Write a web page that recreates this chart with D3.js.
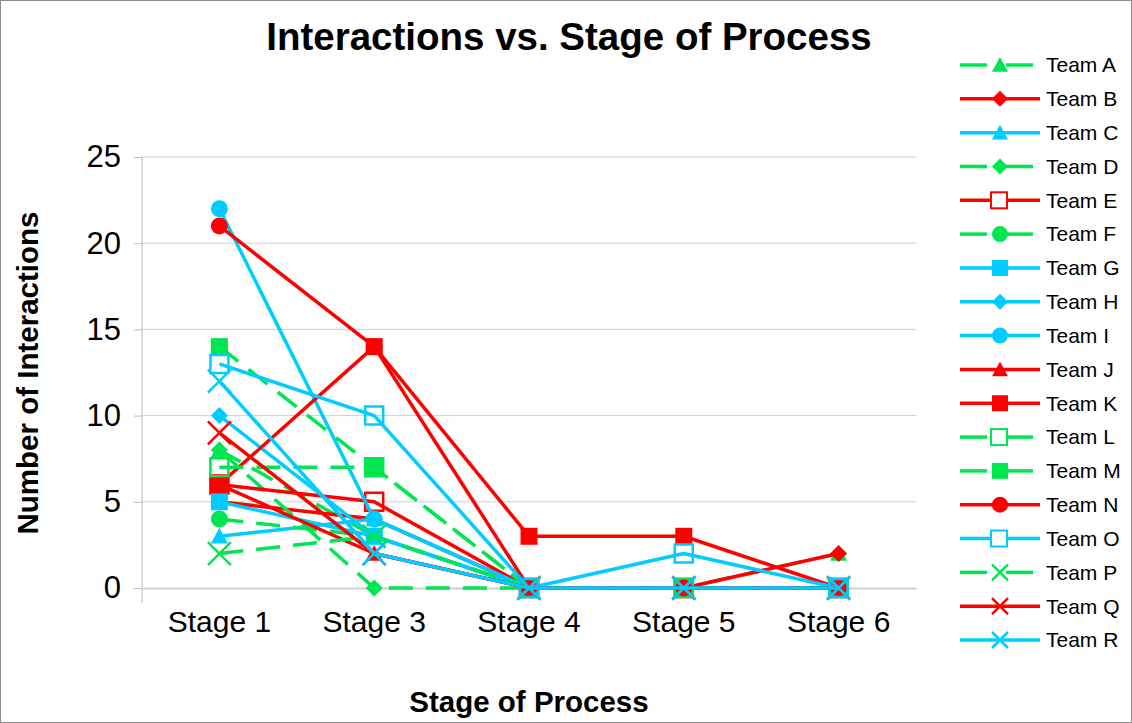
<!DOCTYPE html>
<html>
<head>
<meta charset="utf-8">
<script src="https://cdn.jsdelivr.net/npm/d3@7"></script>
<style>
  html, body { margin: 0; padding: 0; background: #fff; }
  svg { display: block; font-family: "Liberation Sans", Arial, Helvetica, sans-serif; }
</style>
</head>
<body>
<svg id="chart" width="1132" height="723"></svg>
<script>
// Stages on the horizontal axis
const stages = ["Stage 1", "Stage 3", "Stage 4", "Stage 5", "Stage 6"];
const yTicks = [0, 5, 10, 15, 20, 25];

// Interaction counts per team, one value per stage
const teamA = [8, 3, 0, 0, 2];
const teamB = [5, 4, 0, 0, 2];
const teamC = [3, 4, 0, 0, 0];
const teamD = [8, 0, 0, 0, 0];
const teamE = [6, 5, 0, 0, 0];
const teamF = [4, 3, 0, 0, 0];
const teamG = [5, 3, 0, 0, 0];
const teamH = [10, 3, 0, 0, 0];
const teamI = [22, 4, 0, 0, 0];
const teamJ = [6, 2, 0, 0, 0];
const teamK = [6, 14, 3, 3, 0];
const teamL = [7, 7, 0, 0, 0];
const teamM = [14, 7, 0, 0, 0];
const teamN = [21, 14, 0, 0, 0];
const teamO = [13, 10, 0, 2, 0];
const teamP = [2, 3, 0, 0, 0];
const teamQ = [9, 2, 0, 0, 0];
const teamR = [12, 2, 0, 0, 0];

const teamNames = ["Team A","Team B","Team C","Team D","Team E","Team F","Team G","Team H","Team I",
                   "Team J","Team K","Team L","Team M","Team N","Team O","Team P","Team Q","Team R"];
const teamValues = [teamA, teamB, teamC, teamD, teamE, teamF, teamG, teamH, teamI,
                    teamJ, teamK, teamL, teamM, teamN, teamO, teamP, teamQ, teamR];
const teamColorKey = ["g","r","c","g","r","g","c","c","c","r","r","g","g","r","c","g","r","c"];
const teamMarker = ["triangle","diamond","triangle","diamond","openSquare","circle","square","diamond","circle",
                    "triangle","square","openSquare","square","circle","openSquare","x","x","x"];

const palette = { g: "#00e650", r: "#ff0000", c: "#00ccff" };

const svg = d3.select("#chart");
const W = 1132, H = 723;

// outer frame
svg.append("rect").attr("x", 0.5).attr("y", 0.5).attr("width", W - 1).attr("height", H - 1)
  .attr("fill", "#fff").attr("stroke", "#8c8c8c").attr("stroke-width", 1);

const plot = { left: 142, right: 916, top: 157, bottom: 588 };

const x = d3.scaleBand().domain(stages).range([plot.left, plot.right]).padding(0);
const y = d3.scaleLinear().domain([0, 25]).range([plot.bottom, plot.top]);
const cx = s => x(s) + x.bandwidth() / 2;

// gridlines
svg.append("g").selectAll("line").data(yTicks.filter(t => t > 0)).join("line")
  .attr("x1", plot.left).attr("x2", plot.right)
  .attr("y1", d => y(d)).attr("y2", d => y(d))
  .attr("stroke", "#cfcfcf").attr("stroke-width", 1);

// y axis
const yAxis = svg.append("g").attr("transform", `translate(${plot.left},0)`)
  .call(d3.axisLeft(y).tickValues(yTicks).tickSize(8).tickPadding(13));
yAxis.select(".domain").attr("stroke", "#bdbdbd").attr("d", `M0,${plot.top}V${plot.bottom + 15}`);
yAxis.selectAll(".tick line").attr("stroke", "#bdbdbd");
yAxis.selectAll(".tick text").attr("font-size", 31).attr("fill", "#000")
  .attr("font-family", "'Liberation Sans', Arial, sans-serif");

// x axis
const xAxis = svg.append("g").attr("transform", `translate(0,${plot.bottom})`)
  .call(d3.axisBottom(x).tickSize(0).tickPadding(23));
xAxis.select(".domain").attr("stroke", "#cfcfcf").attr("stroke-width", 2);
xAxis.selectAll(".tick text").attr("font-size", 30).attr("fill", "#000")
  .attr("font-family", "'Liberation Sans', Arial, sans-serif");

// marker path builders (centered at 0,0)
function markerPath(type, s) {
  const h = s / 2;
  switch (type) {
    case "triangle": return `M0,${-h}L${h},${h * 0.85}L${-h},${h * 0.85}Z`;
    case "diamond": return `M0,${-h}L${h},0L0,${h}L${-h},0Z`;
    case "square":
    case "openSquare": return `M${-h},${-h}H${h}V${h}H${-h}Z`;
    case "circle": return `M${h},0A${h},${h} 0 1,1 ${-h},0A${h},${h} 0 1,1 ${h},0Z`;
    case "x": return `M${-h},${-h}L${h},${h}M${h},${-h}L${-h},${h}`;
  }
}
function markerStyle(sel, type, color) {
  if (type === "openSquare") sel.attr("fill", "none").attr("stroke", color).attr("stroke-width", 2.5);
  else if (type === "x") sel.attr("fill", "none").attr("stroke", color).attr("stroke-width", 2.5);
  else sel.attr("fill", color).attr("stroke", "none");
}
const markerSize = { triangle: 17, diamond: 17, square: 17, openSquare: 18, circle: 17, x: 23 };

const line = d3.line().x(d => cx(d.stage)).y(d => y(d.value));

// series: line then markers, in team order
const seriesG = svg.append("g");
teamNames.forEach((name, i) => {
  const color = palette[teamColorKey[i]];
  const dashed = teamColorKey[i] === "g";
  const pts = stages.map((s, j) => ({ stage: s, value: teamValues[i][j] }));
  const g = seriesG.append("g").attr("class", "series");
  g.append("path").datum(pts).attr("d", line)
    .attr("fill", "none").attr("stroke", color).attr("stroke-width", 3.5)
    .attr("stroke-linejoin", "round")
    .attr("stroke-dasharray", dashed ? "24,13" : null);
  const type = teamMarker[i];
  g.selectAll("path.mk").data(pts).join("path").attr("class", "mk")
    .attr("transform", d => `translate(${cx(d.stage)},${y(d.value)})`)
    .attr("d", markerPath(type, markerSize[type]))
    .call(markerStyle, type, color);
});

// title and axis titles
svg.append("text").attr("x", 569).attr("y", 50).attr("text-anchor", "middle")
  .attr("font-size", 38.5).attr("font-weight", "bold").text("Interactions vs. Stage of Process");
svg.append("text").attr("transform", "translate(38,373) rotate(-90)").attr("text-anchor", "middle")
  .attr("font-size", 29.5).attr("font-weight", "bold").text("Number of Interactions");
svg.append("text").attr("x", 529).attr("y", 712).attr("text-anchor", "middle")
  .attr("font-size", 29.5).attr("font-weight", "bold").text("Stage of Process");

// legend
const legend = svg.append("g");
const legY = d3.scalePoint().domain(teamNames).range([65, 640]);
teamNames.forEach((name, i) => {
  const color = palette[teamColorKey[i]];
  const dashed = teamColorKey[i] === "g";
  const ly = legY(name);
  const row = legend.append("g");
  if (dashed) {
    row.append("line").attr("x1", 960).attr("x2", 987).attr("y1", ly).attr("y2", ly)
      .attr("stroke", color).attr("stroke-width", 3.5);
    row.append("line").attr("x1", 1006).attr("x2", 1033).attr("y1", ly).attr("y2", ly)
      .attr("stroke", color).attr("stroke-width", 3.5);
  } else {
    row.append("line").attr("x1", 960).attr("x2", 1040).attr("y1", ly).attr("y2", ly)
      .attr("stroke", color).attr("stroke-width", 3.5);
  }
  const type = teamMarker[i];
  if (type === "openSquare") {
    row.append("rect").attr("x", 991).attr("y", ly - 8).attr("width", 16).attr("height", 16)
      .attr("fill", "#fff").attr("stroke", color).attr("stroke-width", 2);
  } else {
    row.append("path").attr("transform", `translate(1000,${ly})`)
      .attr("d", markerPath(type, 16))
      .call(markerStyle, type, color);
  }
  row.append("text").attr("x", 1046).attr("y", ly).attr("dy", "0.35em")
    .attr("font-size", 21).attr("fill", "#000").text(name);
});
</script>
</body>
</html>
